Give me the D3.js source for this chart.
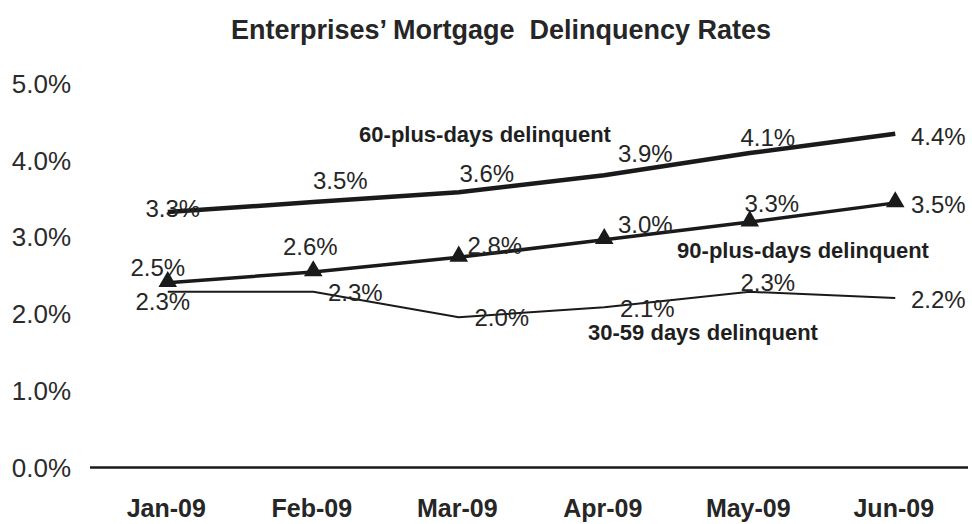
<!DOCTYPE html>
<html>
<head>
<meta charset="utf-8">
<script src="https://cdn.jsdelivr.net/npm/d3@7"></script>
<style>
  body { margin: 0; background: #fff; }
  svg { font-family: 'Liberation Sans', Arial, sans-serif; }
</style>
</head>
<body>
<div id="chart"></div>
<script>
// Months along the x axis
var months = ['Jan-09', 'Feb-09', 'Mar-09', 'Apr-09', 'May-09', 'Jun-09'];
// Y axis ticks (percent)
var yTicks = [0, 1, 2, 3, 4, 5];

// Plotted values (as drawn in the picture) and the printed labels
var days60 = [3.33, 3.46, 3.59, 3.81, 4.10, 4.35];
var days60Labels = ['3.3%', '3.5%', '3.6%', '3.9%', '4.1%', '4.4%'];
var days90 = [2.41, 2.55, 2.74, 2.97, 3.20, 3.45];
var days90Labels = ['2.5%', '2.6%', '2.8%', '3.0%', '3.3%', '3.5%'];
var days30 = [2.29, 2.29, 1.96, 2.09, 2.29, 2.21];
var days30Labels = ['2.3%', '2.3%', '2.0%', '2.1%', '2.3%', '2.2%'];

var width = 972, height = 524;
var svg = d3.select('#chart').append('svg')
  .attr('width', width)
  .attr('height', height);

var x = d3.scalePoint().domain(months).range([95, 968]).padding(0.5);
var y = d3.scaleLinear().domain([0, 5]).range([467.5, 84]);

var ink = '#1a1a1a';

// Title
svg.append('text')
  .attr('x', 501).attr('y', 30)
  .attr('text-anchor', 'middle')
  .attr('dominant-baseline', 'central')
  .style('font-size', '27px').style('font-weight', 'bold')
  .style('fill', '#262626')
  .text('Enterprises\u2019 Mortgage \u00a0Delinquency Rates');

// Y axis labels, no line and no ticks
svg.selectAll('.ylab')
  .data(yTicks)
  .enter().append('text')
  .attr('class', 'ylab')
  .attr('x', 71)
  .attr('y', function(d) { return y(d); })
  .attr('text-anchor', 'end')
  .attr('dominant-baseline', 'central')
  .style('font-size', '26px')
  .style('fill', '#2b2b2b')
  .text(function(d) { return d.toFixed(1) + '%'; });

// X axis: just a baseline and bold month labels
var xAxis = svg.append('g')
  .attr('transform', 'translate(0,' + y(0) + ')')
  .call(d3.axisBottom(x).tickSize(0).tickPadding(32));
xAxis.select('.domain')
  .attr('d', 'M90,0H968')
  .style('stroke', ink).style('stroke-width', 2.5);
xAxis.selectAll('text')
  .attr('dx', '-2')
  .style('font-family', "'Liberation Sans', Arial, sans-serif")
  .style('font-size', '25px').style('font-weight', 'bold')
  .style('fill', '#262626');

var line = d3.line()
  .x(function(d, i) { return x(months[i]); })
  .y(function(d) { return y(d); });

// 30-59 days line (thin)
svg.append('path').datum(days30)
  .attr('d', line).attr('fill', 'none')
  .style('stroke', ink).style('stroke-width', 2);
// 90-plus line with triangles
svg.append('path').datum(days90)
  .attr('d', line).attr('fill', 'none')
  .style('stroke', ink).style('stroke-width', 3.5);
svg.selectAll('.tri')
  .data(days90)
  .enter().append('path')
  .attr('class', 'tri')
  .attr('d', d3.symbol().type(d3.symbolTriangle).size(150))
  .attr('transform', function(d, i) {
    return 'translate(' + x(months[i]) + ',' + (y(d) - 1) + ')';
  })
  .style('fill', ink);
// 60-plus line (thick)
svg.append('path').datum(days60)
  .attr('d', line).attr('fill', 'none')
  .style('stroke', ink).style('stroke-width', 4.5);

// Label offsets from each point [dx, dy]
var off60 = [[5, -4], [27, -22], [28, -19], [41, -22], [18, -16], [43, 3]];
var off90 = [[-10, -15], [-3, -25], [36, -12], [41, -15], [22, -19], [43, 2]];
var off30 = [[-5, 10], [42, 1], [43, 0], [43, 1], [18, -9], [43, 2]];

function addLabels(vals, labels, offs) {
  svg.selectAll(null)
    .data(vals)
    .enter().append('text')
    .attr('x', function(d, i) { return x(months[i]) + offs[i][0]; })
    .attr('y', function(d, i) { return y(d) + offs[i][1]; })
    .attr('text-anchor', 'middle')
    .attr('dominant-baseline', 'central')
    .style('font-size', '24px')
    .style('fill', '#262626')
    .text(function(d, i) { return labels[i]; });
}
addLabels(days60, days60Labels, off60);
addLabels(days90, days90Labels, off90);
addLabels(days30, days30Labels, off30);

// Series names
var names = [
  { t: '60-plus-days delinquent', x: 485, y: 134 },
  { t: '90-plus-days delinquent', x: 803, y: 250 },
  { t: '30-59 days delinquent', x: 703, y: 332 }
];
svg.selectAll('.sname')
  .data(names)
  .enter().append('text')
  .attr('class', 'sname')
  .attr('x', function(d) { return d.x; })
  .attr('y', function(d) { return d.y; })
  .attr('text-anchor', 'middle')
  .attr('dominant-baseline', 'central')
  .style('font-size', '22px').style('font-weight', 'bold')
  .style('fill', '#1f1f1f')
  .text(function(d) { return d.t; });
</script>
</body>
</html>
